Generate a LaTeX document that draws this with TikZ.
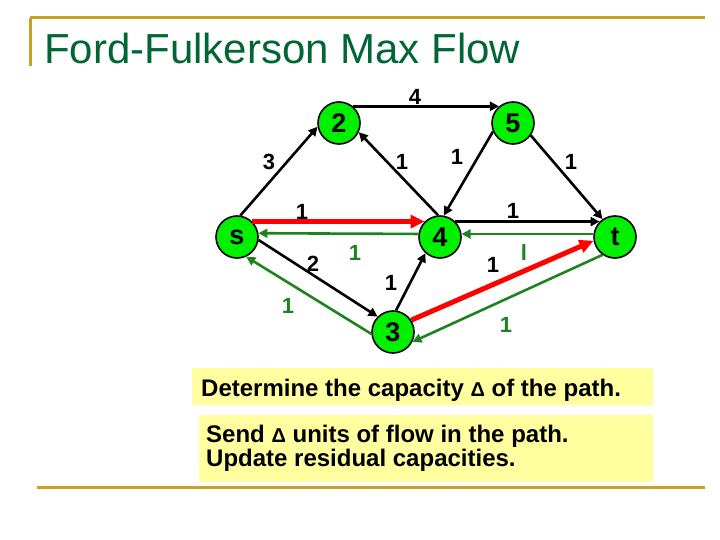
\documentclass[tikz,border=0pt]{standalone}
\usepackage{fontspec}
\setmainfont{Liberation Sans}
\usetikzlibrary{arrows.meta}
\definecolor{gold}{RGB}{200,160,40}
\definecolor{ttl}{RGB}{0,102,51}
\definecolor{nodegreen}{RGB}{0,240,0}
\definecolor{flowgreen}{RGB}{30,130,30}
\definecolor{note}{RGB}{255,255,160}
\begin{document}
\begin{tikzpicture}[x=1pt,y=-1pt,
  vtx/.style={circle,draw=black,line width=1.6pt,fill=nodegreen,minimum size=42pt,inner sep=0pt,font=\fontsize{27}{27}\selectfont\bfseries},
  blk/.style={draw=black,line width=2.6pt,-{Triangle[length=9pt,width=9pt]}},
  redf/.style={draw=red,line width=5pt,-{Triangle[length=14pt,width=13pt]}},
  grn/.style={draw=flowgreen,line width=2.6pt,-{Triangle[length=9pt,width=9pt]}},
  lbl/.style={font=\fontsize{22}{22}\selectfont\bfseries,inner sep=0pt},
  glbl/.style={lbl,text=flowgreen},
  notefont/.style={font=\fontsize{24}{24}\selectfont\bfseries}
]
\useasboundingbox (0,0) rectangle (720,540);
% frame
\draw[gold,line width=3pt] (30,18) -- (705,18);
\draw[gold,line width=3pt] (30,18) -- (30,66);
\draw[gold,line width=3pt] (37,487) -- (705,487);
\node[anchor=base west,inner sep=0pt,text=ttl,font=\fontsize{42}{42}\selectfont] (title) at (44,64) {Ford-Fulkerson Max Flow};
% nodes
\node[vtx] (n2) at (339,123) {2};
\node[vtx] (n5) at (513,123) {5};
\node[vtx] (s) at (237,237) {s};
\node[vtx] (n4) at (440,237) {4};
\node[vtx] (t) at (615,237) {t};
\node[vtx] (n3) at (393,332) {3};
% edges
\draw[blk] (n2.50) -- (n5.130);
\draw[blk] (s.81) -- (n2.190);
\draw[blk] (n4.95) -- (n2.335);
\draw[blk] (n5.203) -- (n4.80);
\draw[blk] (n5.325) -- (t.125);
\draw[blk] (n4.45) -- (t.135);
\draw[grn] (t.172) -- (n4.8);
\draw[redf] (s.45) -- (n4.135);
\draw[grn] (n4.172) -- (s.10);
\draw[blk] (s.352) -- (n3.135);
\draw[grn] (n3.185) -- (s.295);
\draw[blk] (n3.82) -- (n4.228);
\draw[redf] (n3.33) -- (t.190);
\draw[grn] (t.235) -- (n3.333);
% labels
\node[lbl] (l1) at (415,97) {4};
\node[lbl] (l2) at (269,162) {3};
\node[lbl] (l3) at (402,162) {1};
\node[lbl] (l4) at (457,157) {1};
\node[lbl] (l5) at (571,162) {1};
\node[lbl] (l6) at (302,212) {1};
\node[glbl] (l7) at (355,253) {1};
\node[lbl] (l8) at (313,264) {2};
\node[glbl] (l9) at (288,306) {1};
\node[lbl] (l10) at (391,283) {1};
\node[lbl] (l11) at (493,265) {1};
\node[glbl] (l12) at (524,253) {l};
\node[lbl] (l13) at (513,211) {1};
\node[glbl] (l14) at (506,325) {1};
% notes
\fill[note] (192,368) rectangle (653,405);
\node[anchor=base west,inner sep=0pt,notefont] (t1) at (201,396) {Determine the capacity {\fontsize{20}{20}\selectfont Δ} of the path.};
\fill[note] (199,415) rectangle (653,482);
\node[anchor=base west,inner sep=0pt,align=left,notefont] (t2) at (206,466) {Send {\fontsize{20}{20}\selectfont Δ} units of flow in the path.\\Update residual capacities.};
\end{tikzpicture}
\end{document}
